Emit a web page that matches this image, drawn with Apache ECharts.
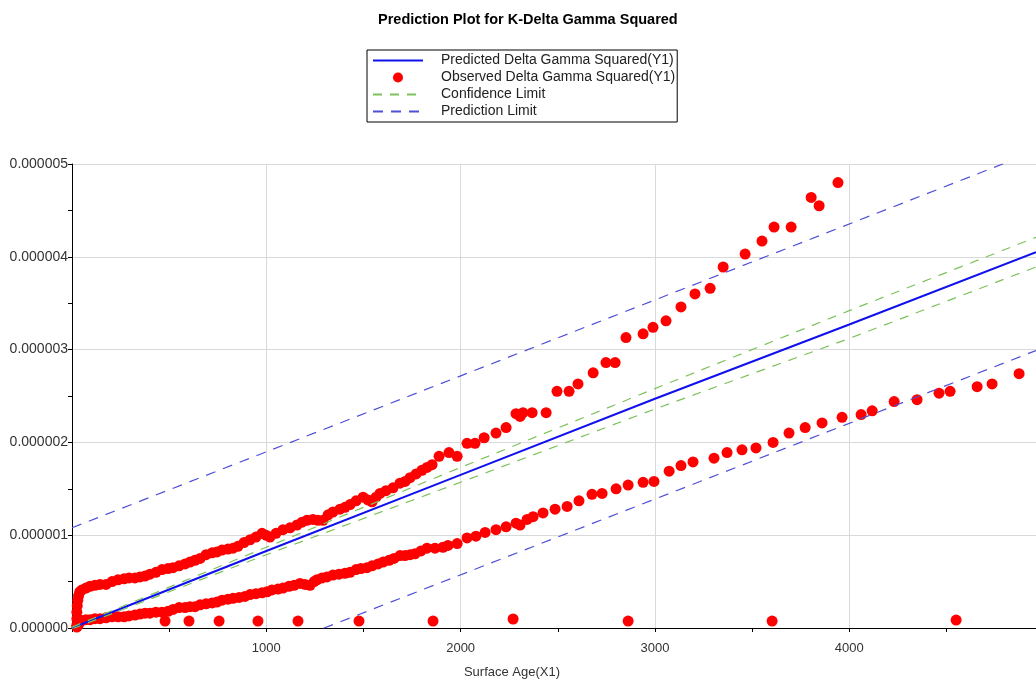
<!DOCTYPE html>
<html><head><meta charset="utf-8">
<script src="https://cdn.jsdelivr.net/npm/echarts@6/dist/echarts.min.js"></script>
<style>html,body{margin:0;padding:0;background:#fff}#c{width:1036px;height:684px}</style>
</head><body><div id="c"></div>
<script>
// Values of Y in units of 1e-6
const observedUpper = [
[25,0.03],[25,0.10],[25,0.17],[27,0.24],[30,0.30],[34,0.35],[40,0.39],[51,0.41],[72,0.43],[93,0.45],[118,0.46],[144,0.47],[175,0.47],[206,0.50],[237,0.52],[268,0.53],[293,0.54],[324,0.54],[350,0.55],[376,0.56],[401,0.58],[432,0.60],[463,0.63],[494,0.64],[520,0.65],[551,0.67],[582,0.69],[607,0.71],[633,0.73],[659,0.75],[690,0.79],[721,0.81],[746,0.82],[772,0.84],[803,0.85],[829,0.86],[854,0.88],[885,0.92],[916,0.95],[947,0.98],[978,1.02],[998,1.00],[1019,0.98],[1050,1.02],[1086,1.06],[1122,1.08],[1158,1.11],[1184,1.14],[1209,1.16],[1240,1.17],[1266,1.16],[1292,1.16],[1318,1.22],[1343,1.25],[1379,1.28],[1405,1.30],[1431,1.33],[1462,1.37],[1498,1.41],[1523,1.38],[1544,1.36],[1565,1.41],[1585,1.45],[1616,1.48],[1652,1.51],[1688,1.56],[1714,1.58],[1740,1.62],[1771,1.66],[1801,1.70],[1827,1.73],[1853,1.76],[1889,1.85],[1940,1.89],[1982,1.85],[2033,1.99],[2074,1.99],[2121,2.05],[2182,2.10],[2234,2.16],[2285,2.31],[2306,2.28],[2321,2.32],[2368,2.32],[2440,2.32],[2496,2.55],[2558,2.55],[2604,2.63],[2682,2.75],[2748,2.86],[2795,2.86],[2851,3.13],[2939,3.17],[2990,3.24],[3057,3.31],[3134,3.46],[3206,3.60],[3284,3.66],[3351,3.89],[3464,4.03],[3551,4.17],[3613,4.32],[3701,4.32],[3804,4.64],[3845,4.55],[3942,4.80]
];
const observedLower = [
[25,0.01],[35,0.04],[51,0.08],[72,0.09],[93,0.09],[118,0.10],[144,0.10],[175,0.11],[206,0.12],[237,0.12],[268,0.12],[293,0.13],[324,0.14],[350,0.15],[376,0.16],[401,0.16],[432,0.17],[463,0.17],[494,0.18],[520,0.20],[551,0.22],[582,0.22],[607,0.23],[633,0.23],[659,0.25],[690,0.26],[721,0.27],[746,0.28],[772,0.30],[803,0.31],[829,0.32],[860,0.33],[890,0.34],[916,0.36],[947,0.37],[978,0.38],[1004,0.39],[1029,0.41],[1060,0.42],[1086,0.43],[1117,0.45],[1143,0.46],[1173,0.48],[1199,0.47],[1225,0.46],[1246,0.50],[1261,0.52],[1287,0.54],[1312,0.55],[1343,0.57],[1374,0.58],[1405,0.59],[1431,0.60],[1462,0.63],[1487,0.64],[1518,0.65],[1544,0.67],[1575,0.69],[1601,0.71],[1632,0.73],[1657,0.75],[1688,0.78],[1714,0.78],[1740,0.79],[1765,0.80],[1796,0.83],[1827,0.86],[1868,0.86],[1909,0.87],[1935,0.89],[1982,0.91],[2033,0.97],[2079,0.99],[2126,1.03],[2182,1.06],[2234,1.09],[2285,1.13],[2306,1.11],[2342,1.17],[2373,1.20],[2424,1.24],[2486,1.28],[2548,1.31],[2609,1.37],[2676,1.44],[2728,1.45],[2800,1.50],[2862,1.54],[2939,1.57],[2995,1.58],[3073,1.69],[3134,1.75],[3196,1.79],[3304,1.83],[3371,1.89],[3448,1.92],[3520,1.94],[3608,2.00],[3690,2.10],[3773,2.16],[3860,2.21],[3963,2.27],[4061,2.30],[4118,2.34],[4231,2.44],[4349,2.46],[4462,2.53],[4519,2.55],[4658,2.60],[4735,2.63],[4874,2.74]
];
const observedBase = [
[479,0.075],[602,0.075],[757,0.075],[957,0.075],[1163,0.075],[1477,0.075],[1858,0.075],[2270,0.097],[2862,0.075],[3603,0.075],[4550,0.086]
];
const predicted = [[0,0.0],[1000,0.83],[2000,1.65],[3000,2.47],[4000,3.27],[4961,4.05]];
const confUpper = [[0,0.01],[1000,0.87],[2000,1.73],[3000,2.58],[4000,3.42],[4961,4.21]];
const confLower = [[0,-0.01],[1000,0.79],[2000,1.57],[3000,2.36],[4000,3.12],[4961,3.89]];
const predUpper = [[0,1.08],[4961,5.14]];
const predLower = [[0,-1.06],[4961,2.99]];
const xTicks = {min:0, max:4961, interval:1000};
const yTicks = {min:0, max:5e-6, interval:1e-6};
const seriesNames = ['Predicted Delta Gamma Squared(Y1)','Observed Delta Gamma Squared(Y1)','Confidence Limit','Prediction Limit'];

const U = 1e-6;
const conv = arr => arr.map(p => [p[0], p[1]*U]);
const FONT = 'Liberation Sans, Arial, sans-serif';

const chart = echarts.init(document.getElementById('c'), null, {renderer:'canvas'});
const lineBase = {type:'line', symbol:'none', showSymbol:false, z:3, silent:true, clip:true};
chart.setOption({
  animation:false,
  backgroundColor:'#fff',
  title:{text:'Prediction Plot for K-Delta Gamma Squared', left:373, top:7,
    textStyle:{fontFamily:FONT, fontSize:14.5, fontWeight:'bold', color:'#000'}},
  legend:{
    data:[
      {name:seriesNames[0]},
      {name:seriesNames[1], icon:'circle', itemStyle:{opacity:1}},
      {name:seriesNames[2]},
      {name:seriesNames[3]}
    ],
    orient:'vertical', left:367, top:50,
    itemWidth:50, itemHeight:10, itemGap:0,
    padding:[2,2,2,5],
    itemStyle:{opacity:0},
    borderColor:'#000', borderWidth:1, borderRadius:0,
    textStyle:{fontFamily:FONT, fontSize:14, lineHeight:17, color:'#222', padding:[0,0,0,13]},
    selectedMode:false
  },
  grid:{left:72, right:0, top:164, bottom:56, containLabel:false},
  xAxis:{type:'value', min:xTicks.min, max:xTicks.max, interval:xTicks.interval,
    name:'Surface Age(X1)', nameLocation:'middle', nameGap:38,
    nameTextStyle:{fontFamily:FONT, fontSize:13, color:'#333', padding:[0,84,0,0]},
    axisLine:{show:true, onZero:false, lineStyle:{color:'#000', width:1}},
    axisTick:{show:true, length:4, lineStyle:{color:'#000'}},
    minorTick:{show:true, splitNumber:2, length:4, lineStyle:{color:'#000'}},
    axisLabel:{fontFamily:FONT, fontSize:13, color:'#333', margin:14, showMinLabel:false, showMaxLabel:false,
      formatter:v => String(v)},
    splitLine:{show:true, lineStyle:{color:'#d9d9d9', width:1}}
  },
  yAxis:{type:'value', min:yTicks.min, max:yTicks.max, interval:yTicks.interval,
    axisLine:{show:true, onZero:false, lineStyle:{color:'#000', width:1}},
    axisTick:{show:true, length:4, lineStyle:{color:'#000'}},
    minorTick:{show:true, splitNumber:2, length:4, lineStyle:{color:'#000'}},
    axisLabel:{fontFamily:FONT, fontSize:14, color:'#333', margin:4, formatter:v => v.toFixed(6)},
    splitLine:{show:true, lineStyle:{color:'#d9d9d9', width:1}}
  },
  series:[
    {name:seriesNames[1], type:'scatter', symbol:'circle', symbolSize:11, z:2,
      itemStyle:{color:'#ff0000', opacity:1}, data:conv(observedUpper.concat(observedLower, observedBase))},
    Object.assign({name:seriesNames[0], data:conv(predicted),
      itemStyle:{color:'#1010ee'}, lineStyle:{color:'#1010ee', width:2}, z:5}, lineBase),
    Object.assign({name:seriesNames[2], data:conv(confUpper),
      itemStyle:{color:'#7cc25a'}, lineStyle:{color:'#7cc25a', width:1.2, type:[9,8]}}, lineBase),
    Object.assign({name:seriesNames[2], data:conv(confLower),
      itemStyle:{color:'#7cc25a'}, lineStyle:{color:'#7cc25a', width:1.2, type:[9,8]}}, lineBase),
    Object.assign({name:seriesNames[3], data:conv(predUpper),
      itemStyle:{color:'#4f4fd8'}, lineStyle:{color:'#4f4fd8', width:1.2, type:[10,8]}}, lineBase),
    Object.assign({name:seriesNames[3], data:conv(predLower),
      itemStyle:{color:'#4f4fd8'}, lineStyle:{color:'#4f4fd8', width:1.2, type:[10,8]}}, lineBase)
  ]
});
</script></body></html>
